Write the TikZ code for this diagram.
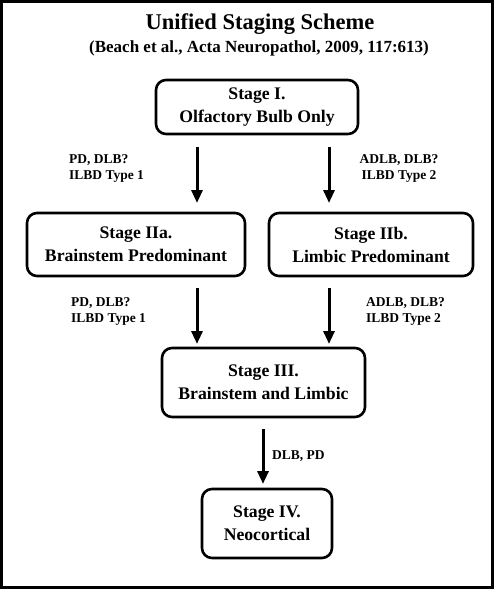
\documentclass[tikz,border=0pt]{standalone}
\usepackage{fontspec}
\setmainfont{Liberation Serif}
\usetikzlibrary{arrows.meta}
\tikzset{
  stagebox/.style={draw, line width=2.6pt, rounded corners=10pt, align=center, inner sep=0pt,
    font=\bfseries\fontsize{17.7}{23}\selectfont},
  lbl/.style={inner sep=0pt, font=\bfseries\fontsize{13.5}{16}\selectfont},
  flow/.style={line width=3pt, -{Triangle[width=11pt,length=13pt]}}
}
\begin{document}
\begin{tikzpicture}[x=1pt,y=-1pt]
\useasboundingbox (0,0) rectangle (494,589);
\draw[line width=3pt] (1.5,1.5) rectangle (492.5,587);
\node[font=\bfseries\fontsize{22.5}{27}\selectfont, inner sep=0pt] (title) at (260,24) {Unified Staging Scheme};
\node[font=\bfseries\fontsize{17}{20}\selectfont, inner sep=0pt] (sub) at (259,48) {(Beach et al., Acta Neuropathol, 2009, 117:613)};
\node[stagebox, minimum width=202pt, minimum height=54pt] (s1) at (257,107) {Stage I.\\Olfactory Bulb Only};
\node[stagebox, minimum width=218pt, minimum height=63pt] (s2a) at (136,244.5) {Stage IIa.\\Brainstem Predominant};
\node[stagebox, minimum width=204pt, minimum height=63pt] (s2b) at (371,244.5) {Stage IIb.\\Limbic Predominant};
\node[stagebox, minimum width=203pt, minimum height=69pt] (s3) at (263.5,382.5) {Stage III.\\Brainstem and Limbic};
\node[stagebox, minimum width=130pt, minimum height=69pt] (s4) at (267,523.5) {Stage IV.\\Neocortical};
\coordinate (a1s) at (197,147); \coordinate (a1e) at (197,203);
\coordinate (a2s) at (329,147); \coordinate (a2e) at (329,203);
\coordinate (a3s) at (197,288); \coordinate (a3e) at (197,344);
\coordinate (a4s) at (329,288); \coordinate (a4e) at (329,344);
\coordinate (a5s) at (263,429); \coordinate (a5e) at (263,484);
\draw[flow] (a1s) -- (a1e);
\draw[flow] (a2s) -- (a2e);
\draw[flow] (a3s) -- (a3e);
\draw[flow] (a4s) -- (a4e);
\draw[flow] (a5s) -- (a5e);
\node[lbl, align=left, anchor=west] (l1) at (69,168) {PD, DLB?\\ILBD Type 1};
\node[lbl, align=center] (l2) at (399,168) {ADLB, DLB?\\ILBD Type 2};
\node[lbl, align=left, anchor=west] (l3) at (71,311) {PD, DLB?\\ILBD Type 1};
\node[lbl, align=left, anchor=west] (l4) at (366,311) {ADLB, DLB?\\ILBD Type 2};
\node[lbl, anchor=west] (l5) at (272,456) {DLB, PD};
\end{tikzpicture}
\end{document}
